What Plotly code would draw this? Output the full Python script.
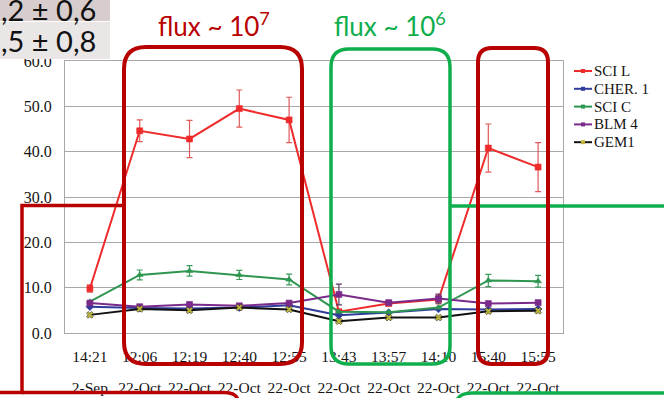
import plotly.graph_objects as go

# ---- data -------------------------------------------------------------
times = ["14:21", "12:06", "12:19", "12:40", "12:55", "13:43", "13:57", "14:10", "15:40", "15:55"]
dates = ["2-Sep", "22-Oct", "22-Oct", "22-Oct", "22-Oct", "22-Oct", "22-Oct", "22-Oct", "22-Oct", "22-Oct"]

series_names = ["SCI L", "CHER. 1", "SCI C", "BLM 4", "GEM1"]
sci_l = [9.8, 44.6, 42.8, 49.5, 47.0, 4.7, 6.5, 7.4, 40.8, 36.6]
sci_l_err = [0.8, 2.4, 4.1, 4.1, 5.0, 0.0, 0.0, 1.0, 5.3, 5.4]
cher_1 = [5.8, 5.5, 5.4, 5.6, 6.1, 3.9, 4.5, 5.3, 5.2, 5.3]
sci_c = [6.9, 12.8, 13.7, 12.8, 11.8, 4.7, 4.6, 5.6, 11.6, 11.4]
sci_c_err = [0.0, 1.1, 1.15, 1.0, 1.2, 0.0, 0.0, 0.0, 1.35, 1.3]
blm_4 = [6.6, 5.8, 6.3, 6.0, 6.6, 8.5, 6.7, 7.6, 6.5, 6.7]
blm_4_err = [0.0, 0.0, 0.0, 0.0, 0.0, 2.3, 0.0, 1.0, 0.0, 0.0]
gem1 = [4.0, 5.3, 5.0, 5.6, 5.2, 2.6, 3.4, 3.4, 4.8, 4.9]

side_notes = [",2 \u00b1 0,6", ",5 \u00b1 0,8"]

# ---- styling ----------------------------------------------------------
W, H = 664, 398
SERIF = "Times New Roman"
SANS = "Lato"
TEXT = "#141414"
DARK_RED = "#b80000"
GREEN = "#0fae4c"

colors = ["#ee2a2a", "#303c9c", "#2e9650", "#7a2a8a", "#111111"]
symbols = ["square", "diamond", "triangle-up", "square", "x"]
marker_colors = ["#ee2a2a", "#303c9c", "#2e9650", "#7a2a8a", "#bdb63a"]
values = [sci_l, cher_1, sci_c, blm_4, gem1]
errors = [sci_l_err, None, sci_c_err, blm_4_err, None]
err_colors = ["#e05a5a", None, "#3a9a5a", "#5a3a6a", None]

fig = go.Figure()
x_idx = list(range(len(times)))
for name, vals, col, sym, mcol, err, ecol in zip(series_names, values, colors, symbols,
                                                  marker_colors, errors, err_colors):
    tr = dict(
        x=x_idx, y=vals, name=name, mode="lines+markers",
        line=dict(color=col, width=2),
        marker=dict(symbol=sym, size=6, color=mcol,
                    line=dict(color="#333333" if sym == "x" else mcol, width=0.6)),
        showlegend=False,
    )
    if err is not None:
        tr["error_y"] = dict(type="data", array=err, visible=True, color=ecol,
                             thickness=1.2, width=3)
    fig.add_trace(go.Scatter(**tr))

# invisible carrier so the date row axis is drawn
fig.add_trace(go.Scatter(x=x_idx, y=gem1, xaxis="x2", yaxis="y", mode="markers",
                         marker=dict(opacity=0), hoverinfo="skip", showlegend=False))


def px_x(x):
    return x / W


def px_y(y):
    return 1 - y / H


x0_px, x1_px, y_top_px, y_bot_px = 65, 563, 61, 333
x_dom = [px_x(x0_px), px_x(x1_px)]

fig.update_layout(
    width=W, height=H,
    margin=dict(l=0, r=0, t=0, b=0, autoexpand=False),
    paper_bgcolor="white", plot_bgcolor="white",
    showlegend=False,
    xaxis=dict(
        domain=x_dom,
        range=[-0.5, len(times) - 0.5],
        tickmode="array", tickvals=x_idx, ticktext=times,
        tickfont=dict(family=SERIF, size=15.5, color=TEXT),
        showgrid=False, zeroline=False, automargin=False,
        showline=True, linecolor="#a8a8a8", linewidth=1, mirror=True,
        ticks="", ticklabelstandoff=9,
    ),
    xaxis2=dict(
        domain=x_dom, overlaying="x", side="bottom", anchor="y",
        range=[-0.5, len(times) - 0.5],
        tickmode="array", tickvals=x_idx, ticktext=dates,
        tickfont=dict(family=SERIF, size=15.5, color=TEXT),
        showgrid=False, zeroline=False, automargin=False, showline=False,
        ticks="", ticklabelstandoff=43,
    ),
    yaxis=dict(
        domain=[px_y(y_bot_px), px_y(y_top_px)],
        range=[0, 60], dtick=10, tickformat=".1f",
        tickfont=dict(family=SERIF, size=16, color=TEXT),
        showgrid=True, gridcolor="#a8a8a8", gridwidth=1,
        zeroline=False, automargin=False,
        showline=True, linecolor="#a8a8a8", linewidth=1, mirror=True,
        ticks="", ticklabelstandoff=9,
    ),
)

shapes = []
annotations = []

# custom legend on the right of the plot area
leg_x0, leg_y0, leg_dy = 574, 71, 17.8
for i, (name, col, mcol) in enumerate(zip(series_names, colors, marker_colors)):
    y = leg_y0 + i * leg_dy
    shapes.append(dict(type="line", xref="paper", yref="paper",
                       x0=px_x(leg_x0), x1=px_x(leg_x0 + 18), y0=px_y(y), y1=px_y(y),
                       line=dict(color=col, width=2)))
    shapes.append(dict(type="rect", xref="paper", yref="paper",
                       x0=px_x(leg_x0 + 7), x1=px_x(leg_x0 + 11),
                       y0=px_y(y + 2), y1=px_y(y - 2),
                       fillcolor=mcol, line=dict(width=0)))
    annotations.append(dict(text=name, xref="paper", yref="paper",
                            x=px_x(leg_x0 + 18), y=px_y(y), xanchor="left", yanchor="middle",
                            showarrow=False,
                            font=dict(family=SERIF, size=15, color=TEXT)))

# note boxes at the top-left corner
note_boxes = [(0, 0, 110, 21, "#d8cdcd"), (0, 22, 110, 59, "#ebe6e6")]
for (bx0, by0, bx1, by1, fill), note in zip(note_boxes, side_notes):
    shapes.append(dict(type="rect", xref="paper", yref="paper", layer="above",
                       x0=px_x(bx0), x1=px_x(bx1), y0=px_y(by1), y1=px_y(by0),
                       fillcolor=fill, line=dict(width=0)))
notes_y = [9, 40]
for note, ny in zip(side_notes, notes_y):
    annotations.append(dict(text=note, xref="paper", yref="paper",
                            x=px_x(-1), y=px_y(ny),
                            xanchor="left", yanchor="middle", showarrow=False,
                            font=dict(family=SANS, size=29, color="#111111")))


def rounded_rect(x0, y0, x1, y1, r):
    """SVG path (paper coords) of a rounded rectangle given in pixels."""
    pts = [
        ("M", (x0 + r, y0)), ("L", (x1 - r, y0)), ("Q", (x1, y0), (x1, y0 + r)),
        ("L", (x1, y1 - r)), ("Q", (x1, y1), (x1 - r, y1)),
        ("L", (x0 + r, y1)), ("Q", (x0, y1), (x0, y1 - r)),
        ("L", (x0, y0 + r)), ("Q", (x0, y0), (x0 + r, y0)),
    ]
    out = []
    for p in pts:
        cmd = p[0]
        coords = " ".join(f"{px_x(x):.5f},{px_y(y):.5f}" for x, y in p[1:])
        out.append(f"{cmd} {coords}")
    return " ".join(out) + " Z"


def polyline(points):
    return "M " + " L ".join(f"{px_x(x):.5f},{px_y(y):.5f}" for x, y in points)


# connector lines leading off the slide
shapes.append(dict(type="path", xref="paper", yref="paper", layer="above",
                   path=polyline([(450, 206), (664, 206)]),
                   line=dict(color=GREEN, width=3.5)))
shapes.append(dict(type="path", xref="paper", yref="paper", layer="above",
                   path=f"M {px_x(457):.5f},{px_y(400):.5f} Q {px_x(460):.5f},{px_y(393):.5f} "
                        f"{px_x(472):.5f},{px_y(393):.5f} L {px_x(664):.5f},{px_y(393):.5f}",
                   line=dict(color=GREEN, width=3.5)))
shapes.append(dict(type="path", xref="paper", yref="paper", layer="above",
                   path=polyline([(124, 205.5), (22, 205.5), (22, 392.5), (0, 392.5)]),
                   line=dict(color=DARK_RED, width=3.5)))
shapes.append(dict(type="path", xref="paper", yref="paper", layer="above",
                   path=f"M {px_x(22):.5f},{px_y(392.5):.5f} L {px_x(224):.5f},{px_y(392.5):.5f} "
                        f"Q {px_x(236):.5f},{px_y(392.5):.5f} {px_x(238):.5f},{px_y(400):.5f}",
                   line=dict(color=DARK_RED, width=3.5)))

# flux regions
shapes.append(dict(type="path", xref="paper", yref="paper", layer="above",
                   path=rounded_rect(331, 49, 450, 364, 18),
                   line=dict(color=GREEN, width=3.5)))
shapes.append(dict(type="path", xref="paper", yref="paper", layer="above",
                   path=rounded_rect(124, 47, 302, 364, 22),
                   line=dict(color=DARK_RED, width=4)))
shapes.append(dict(type="path", xref="paper", yref="paper", layer="above",
                   path=rounded_rect(478, 48, 548, 364, 14),
                   line=dict(color=DARK_RED, width=4)))

annotations.append(dict(text="flux ~ 10<sup>7</sup>", xref="paper", yref="paper",
                        x=px_x(214), y=px_y(25), xanchor="center", yanchor="middle",
                        showarrow=False, font=dict(family=SANS, size=26, color=DARK_RED)))
annotations.append(dict(text="flux ~ 10<sup>6</sup>", xref="paper", yref="paper",
                        x=px_x(390), y=px_y(25), xanchor="center", yanchor="middle",
                        showarrow=False, font=dict(family=SANS, size=26, color=GREEN)))

fig.update_layout(shapes=shapes, annotations=annotations)
fig.write_html("out.html")
